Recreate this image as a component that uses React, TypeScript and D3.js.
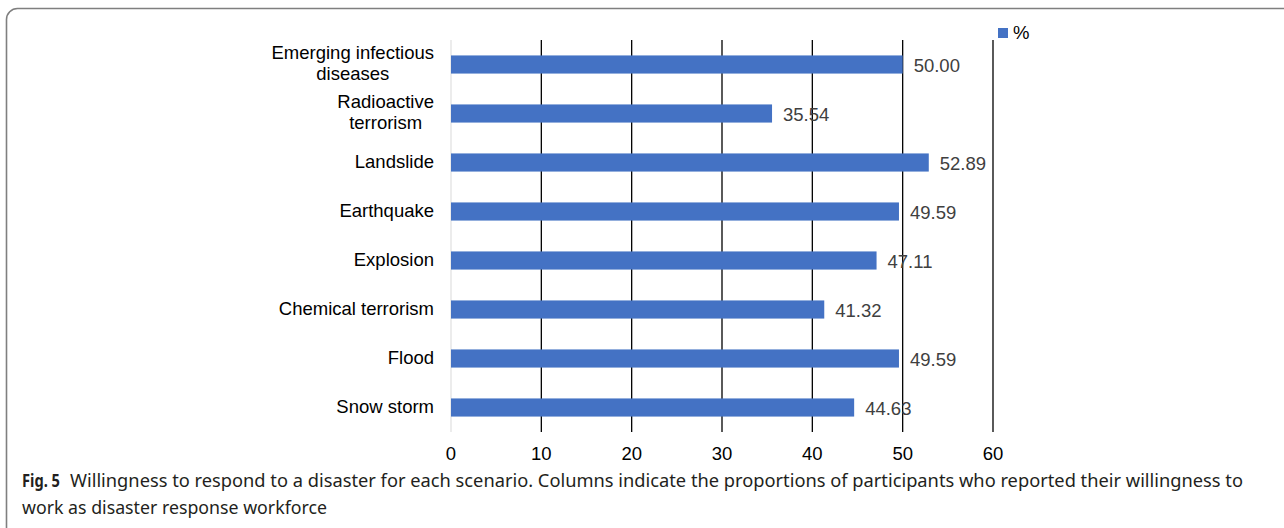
import { useEffect, useRef } from 'react';
import * as d3 from 'd3';

const categories = [
  'Emerging infectious diseases',
  'Radioactive terrorism',
  'Landslide',
  'Earthquake',
  'Explosion',
  'Chemical terrorism',
  'Flood',
  'Snow storm',
];
const labelLines = [
  ['Emerging infectious', 'diseases'],
  ['Radioactive', 'terrorism'],
  ['Landslide'],
  ['Earthquake'],
  ['Explosion'],
  ['Chemical terrorism'],
  ['Flood'],
  ['Snow storm'],
];
const values = [50.0, 35.54, 52.89, 49.59, 47.11, 41.32, 49.59, 44.63];
const xTicks = [0, 10, 20, 30, 40, 50, 60];
const seriesName = '%';
const captionLine1 =
  'Willingness to respond to a disaster for each scenario. Columns indicate the proportions of participants who reported their willingness to';
const captionLine2 = 'work as disaster response workforce';

export default function App() {
  const svgRef = useRef<SVGSVGElement>(null);

  useEffect(() => {
    if (!svgRef.current) return;
    const svg = d3.select(svgRef.current);
    svg.selectAll('*').remove();

    const font = 'Liberation Sans, Arial, sans-serif';
    const barColor = '#4472c4';
    const fs = 18.5;

    // Frame
    svg.append('rect')
      .attr('x', 6.5)
      .attr('y', 8.5)
      .attr('width', 1300)
      .attr('height', 560)
      .attr('rx', 11)
      .attr('fill', 'none')
      .attr('stroke', '#7f7f7f')
      .attr('stroke-width', 1.6);

    const left = 451;
    const right = 993;
    const top = 40;
    const bottom = 432;

    const x = d3.scaleLinear().domain([0, 60]).range([left, right]);
    const y = d3.scaleBand<string>()
      .domain(categories)
      .range([top, bottom])
      .paddingInner(0.63)
      .paddingOuter(0.315);

    const g = svg.append('g');

    // Gridlines
    g.selectAll('line.grid')
      .data(xTicks)
      .join('line')
      .attr('class', 'grid')
      .attr('x1', (d) => x(d))
      .attr('x2', (d) => x(d))
      .attr('y1', top)
      .attr('y2', bottom)
      .attr('stroke', (d) => (d === 0 ? '#d9d9d9' : '#000'))
      .attr('stroke-width', (d) => (d === 0 ? 1 : 1.3));

    // Bars
    g.selectAll('rect.bar')
      .data(values)
      .join('rect')
      .attr('class', 'bar')
      .attr('x', x(0))
      .attr('y', (_, i) => y(categories[i])!)
      .attr('width', (d) => x(d) - x(0))
      .attr('height', y.bandwidth())
      .attr('fill', barColor);

    // Value labels
    g.selectAll('text.val')
      .data(values)
      .join('text')
      .attr('class', 'val')
      .attr('x', (d) => x(d) + 11)
      .attr('y', (_, i) => y(categories[i])! + y.bandwidth() / 2 + 1)
      .attr('dy', '0.35em')
      .attr('font-family', font)
      .attr('font-size', fs)
      .attr('fill', '#404040')
      .text((d) => d.toFixed(2));

    // Category labels (multi-line blocks are centred, right edge at 434)
    const labelRight = 434;
    labelLines.forEach((lines, i) => {
      const cy = y(categories[i])! + y.bandwidth() / 2;
      const lh = 21;
      const t = g.append('text')
        .attr('font-family', font)
        .attr('font-size', fs)
        .attr('fill', '#000');
      const spans = lines.map((ln, j) =>
        t.append('tspan')
          .attr('y', cy - ((lines.length - 1) * lh) / 2 + j * lh - 1)
          .attr('dy', '0.35em')
          .text(ln)
      );
      if (lines.length === 1) {
        spans[0].attr('x', labelRight).attr('text-anchor', 'end');
      } else {
        const maxW = d3.max(spans, (s) => (s.node() as SVGTextContentElement).getComputedTextLength()) || 0;
        spans.forEach((s) => s.attr('x', labelRight - maxW / 2).attr('text-anchor', 'middle'));
      }
    });

    // X tick labels
    g.selectAll('text.tick')
      .data(xTicks)
      .join('text')
      .attr('class', 'tick')
      .attr('x', (d) => x(d))
      .attr('y', 454)
      .attr('dy', '0.35em')
      .attr('text-anchor', 'middle')
      .attr('font-family', font)
      .attr('font-size', fs)
      .attr('fill', '#000')
      .text((d) => d);

    // Legend
    svg.append('rect')
      .attr('x', 998)
      .attr('y', 28)
      .attr('width', 10)
      .attr('height', 10)
      .attr('fill', barColor);
    svg.append('text')
      .attr('x', 1013)
      .attr('y', 33)
      .attr('dy', '0.35em')
      .attr('font-family', font)
      .attr('font-size', fs)
      .attr('fill', '#000')
      .text(seriesName);

    // Caption
    const capFont = 'Noto Sans, Open Sans, sans-serif';
    svg.append('text')
      .attr('x', 22)
      .attr('y', 487)
      .attr('font-family', capFont)
      .attr('font-size', 18)
      .attr('font-weight', 'bold')
      .attr('fill', '#231f20')
      .attr('textLength', 38)
      .attr('lengthAdjust', 'spacingAndGlyphs')
      .text('Fig. 5');
    svg.append('text')
      .attr('x', 70)
      .attr('y', 487)
      .attr('font-family', capFont)
      .attr('font-size', 18)
      .attr('fill', '#231f20')
      .attr('textLength', 1173)
      .attr('lengthAdjust', 'spacingAndGlyphs')
      .text(captionLine1);
    svg.append('text')
      .attr('x', 22)
      .attr('y', 514)
      .attr('font-family', capFont)
      .attr('font-size', 18)
      .attr('fill', '#231f20')
      .attr('textLength', 305)
      .attr('lengthAdjust', 'spacingAndGlyphs')
      .text(captionLine2);
  }, []);

  return (
    <svg
      ref={svgRef}
      width={1284}
      height={528}
      style={{ position: 'absolute', left: 0, top: 0, display: 'block', background: '#fff' }}
    />
  );
}
